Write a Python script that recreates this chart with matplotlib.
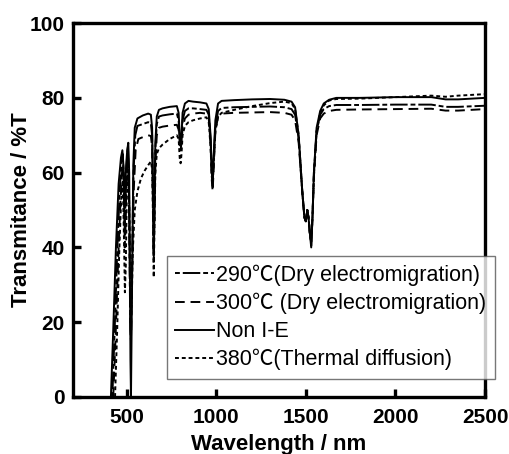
import numpy as np
import matplotlib.pyplot as plt

# Transmittance spectra (wavelength in nm, T in %)
wl_non = [412, 425, 440, 455, 468, 476, 482, 487, 491, 497, 503, 509, 514, 518, 521, 524,
          530, 537, 545, 560, 590, 620, 635, 642, 647, 651, 655, 660, 668, 680, 700, 740,
          780, 790, 796, 801, 806, 812, 825, 845, 870, 910, 945, 958, 968, 975, 980, 986,
          995, 1010, 1030, 1100, 1200, 1300, 1380, 1420, 1440, 1460, 1480, 1492, 1500, 1508,
          1515, 1522, 1530, 1537, 1545, 1560, 1580, 1600, 1630, 1670, 1800, 2000, 2200, 2280,
          2350, 2500]
t_non = [0, 18, 40, 57, 64, 66, 62, 52, 55, 62, 66, 68, 60, 35, 10, 0,
         30, 62, 72, 74.5, 75.3, 75.8, 75.5, 72, 55, 40, 52, 68, 75, 76.8, 77.2, 77.6,
         77.8, 76, 70, 68, 70, 76, 78.5, 79.2, 79, 78.8, 78.5, 77, 70, 61, 58, 65,
         74, 78.5, 79.2, 79.4, 79.6, 79.7, 79.5, 79, 77.5, 70, 55, 48, 47, 50,
         48, 44, 40, 48, 60, 72, 76.5, 78.5, 79.5, 80, 80, 80.2, 80.2, 79.6,
         79.6, 80]

wl_290 = [420, 433, 448, 462, 472, 478, 484, 488, 492, 498, 503, 507, 512, 516, 520, 524,
          530, 538, 548, 560, 590, 620, 635, 642, 647, 651, 655, 660, 668, 680, 700, 740,
          780, 790, 796, 801, 806, 812, 825, 845, 870, 910, 945, 958, 968, 975, 980, 986,
          995, 1010, 1030, 1100, 1200, 1300, 1380, 1420, 1440, 1460, 1480, 1492, 1500, 1508,
          1515, 1522, 1530, 1537, 1545, 1560, 1580, 1600, 1630, 1670, 1800, 2000, 2200, 2280,
          2350, 2500]
t_290 = [0, 18, 40, 56, 63, 65, 58, 45, 50, 60, 65, 67, 58, 38, 18, 15,
         35, 60, 70, 72.5, 73, 73.5, 73.2, 70, 52, 36, 50, 66, 73, 75, 75.3, 75.6,
         75.8, 74, 68, 66, 68, 74, 76.5, 77.2, 77.2, 77, 76.8, 75.5, 69, 60, 57, 64,
         72, 76.5, 77.3, 77.5, 77.6, 77.7, 77.5, 77, 75.5, 69, 55, 48, 47, 50,
         48, 44, 41, 48, 60, 71, 75.5, 77, 77.8, 78.1, 78.1, 78.2, 78.2, 77.6,
         77.6, 77.9]

wl_300 = [425, 438, 452, 465, 474, 480, 485, 489, 494, 499, 504, 508, 513, 517, 521, 525,
          531, 540, 550, 565, 590, 620, 635, 642, 647, 651, 655, 660, 668, 680, 700, 740,
          780, 790, 796, 801, 806, 812, 825, 845, 870, 910, 945, 958, 968, 975, 980, 986,
          995, 1010, 1030, 1100, 1200, 1300, 1380, 1420, 1440, 1460, 1480, 1492, 1500, 1508,
          1515, 1522, 1530, 1537, 1545, 1560, 1580, 1600, 1630, 1670, 1800, 2000, 2200, 2280,
          2350, 2500]
t_300 = [0, 16, 36, 52, 60, 62, 56, 40, 46, 57, 62, 64, 55, 35, 20, 18,
         35, 56, 66, 69, 69.5, 70, 69.8, 67, 50, 38, 48, 62, 70, 72, 72.3, 72.6,
         72.8, 71.5, 68, 67.5, 68, 72, 74.5, 75.5, 75.8, 76, 75.8, 74.5, 68, 58, 55, 62,
         71, 75, 75.8, 76, 76.1, 76.2, 76, 75.5, 74, 68, 55, 48, 47, 50,
         48, 44, 41.5, 48, 59, 70, 74.5, 75.8, 76.5, 76.8, 76.9, 77, 77.1, 76.6,
         76.6, 77]

wl_380 = [435, 447, 458, 467, 472, 478, 484, 490, 495, 500, 505, 510, 515, 519, 523, 528,
          535, 545, 560, 580, 600, 620, 635, 642, 647, 651, 655, 660, 668, 680, 700, 740,
          780, 790, 796, 801, 806, 812, 825, 845, 870, 910, 945, 958, 968, 975, 980, 986,
          995, 1010, 1030, 1100, 1200, 1300, 1380, 1420, 1440, 1460, 1480, 1492, 1500, 1508,
          1515, 1522, 1530, 1537, 1545, 1560, 1580, 1600, 1630, 1670, 1800, 2000, 2200, 2280,
          2350, 2500]
t_380 = [0, 18, 38, 50, 55, 58, 45, 28, 35, 52, 58, 60, 50, 32, 24, 26,
         40, 50, 55, 58.5, 60.5, 62, 63, 61, 48, 32, 45, 60, 65, 66.5, 67.5, 69,
         70, 69, 64, 62.5, 65, 70, 72.5, 73.5, 74, 74.5, 74.8, 73.5, 67, 59, 56.5, 63,
         71, 75, 76, 76.8, 77.8, 78.6, 79, 78.6, 77, 70, 55, 48, 47, 50,
         48, 44, 40.5, 48, 59, 71, 76, 78, 79.3, 79.7, 79.8, 80.2, 80.6, 80.3,
         80.6, 81]

labels = ['290℃(Dry electromigration)', '300℃ (Dry electromigration)',
          'Non I-E', '380℃(Thermal diffusion)']

fig = plt.figure(figsize=(5.1, 4.54), dpi=100)
ax = fig.add_axes([0.143, 0.1256, 0.808, 0.8235])

lw = 1.4
ax.plot(wl_290, t_290, color='black', lw=lw, linestyle=(0, (2.5, 1.5, 9, 1.5)), label=labels[0])
ax.plot(wl_300, t_300, color='black', lw=lw, linestyle=(0, (5, 3)), label=labels[1])
ax.plot(wl_non, t_non, color='black', lw=lw, linestyle='-', label=labels[2])
ax.plot(wl_380, t_380, color='black', lw=lw, linestyle=(0, (2, 1.5)), label=labels[3])

ax.set_xlim(200, 2500)
ax.set_ylim(0, 100)
ax.set_xticks([500, 1000, 1500, 2000, 2500])
ax.set_yticks([0, 20, 40, 60, 80, 100])

for s in ax.spines.values():
    s.set_linewidth(2.4)
ax.tick_params(direction='in', length=6, width=2.4)
ax.tick_params(axis='x', pad=8)
ax.tick_params(axis='y', pad=6)
for t in ax.get_xticklabels() + ax.get_yticklabels():
    t.set_fontfamily('Liberation Sans')
    t.set_fontweight('bold')
    t.set_fontsize(15)

ax.set_xlabel('Wavelength / nm', fontfamily='Liberation Sans', fontweight='bold', fontsize=16, labelpad=5)
ax.set_ylabel('Transmitance / %T', fontfamily='Liberation Sans', fontweight='bold', fontsize=16)
ax.yaxis.set_label_coords(-0.1, 0.5)

leg = ax.legend(loc='upper right', bbox_to_anchor=(1.024, 0.377), frameon=True, fancybox=False,
                prop={'family': ['Liberation Sans', 'Noto Sans CJK JP'], 'size': 15.5},
                handlelength=1.8, handletextpad=0.1, labelspacing=0.32, borderpad=0.4,
                borderaxespad=0)
leg.get_frame().set_edgecolor('#555555')
leg.get_frame().set_linewidth(1.0)

fig.savefig('out.png', dpi=100)
